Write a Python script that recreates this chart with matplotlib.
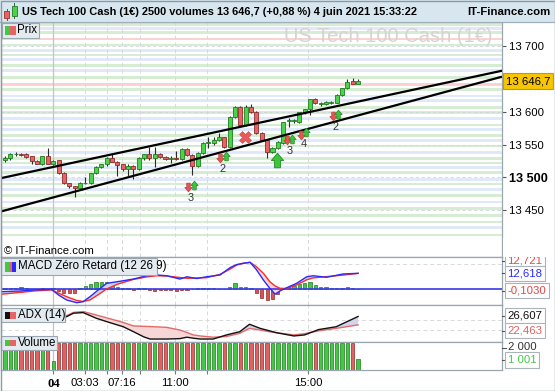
import numpy as np
import matplotlib
matplotlib.use('Agg')
import matplotlib.pyplot as plt
from matplotlib.patches import Rectangle
from matplotlib.lines import Line2D
from matplotlib.path import Path

plt.rcParams['font.family'] = ['Liberation Sans', 'DejaVu Sans']

W, H = 555, 391

# --- price candles (one per 2500-volume bar) ---
opens = [13526, 13529, 13535, 13535, 13536, 13532, 13525, 13521, 13532, 13521,
         13526, 13507, 13491, 13486, 13483, 13491, 13491, 13506, 13516, 13520,
         13530, 13524, 13520, 13512, 13518, 13512, 13529, 13535, 13529, 13535,
         13531, 13528, 13530, 13528, 13543, 13534, 13518, 13537, 13552, 13553,
         13557, 13561, 13547, 13592, 13608, 13580, 13608, 13600, 13568, 13557,
         13539, 13544, 13553, 13586, 13586, 13585, 13599, 13604, 13619, 13612,
         13612, 13614, 13614, 13625, 13636, 13647, 13643]
closes = [13530, 13535, 13535.5, 13534, 13531, 13525, 13521, 13532, 13521, 13525,
          13507, 13491, 13486, 13483, 13492, 13491.5, 13506, 13516, 13520, 13530,
          13524, 13519, 13512, 13518, 13512, 13529, 13535, 13529, 13535, 13531,
          13528, 13530, 13528, 13543, 13534, 13518, 13537, 13553, 13554, 13557,
          13561, 13547, 13592, 13608, 13580, 13608, 13600, 13568, 13557, 13539,
          13544, 13554, 13584, 13587, 13587, 13599, 13604, 13619, 13613, 13613,
          13615, 13615, 13626, 13636, 13646, 13643, 13646.7]
highs = [13533, 13537, 13539, 13537, 13537, 13533, 13526, 13533, 13545, 13527,
         13527, 13508, 13492, 13487, 13493, 13500, 13507, 13517, 13521, 13531,
         13535, 13525, 13521, 13520, 13519, 13531, 13536, 13547, 13546, 13537,
         13532, 13532, 13540, 13544, 13544, 13535, 13538, 13554, 13561, 13562,
         13568, 13562, 13593, 13609, 13609, 13610, 13612, 13601, 13569, 13558,
         13546, 13555, 13585, 13590, 13589, 13600, 13605, 13620, 13621, 13615,
         13617, 13617, 13627, 13637, 13650, 13652, 13650]
lows = [13524, 13527, 13532, 13532, 13530, 13520, 13520, 13519, 13520, 13519,
        13505, 13489, 13484, 13470, 13481, 13489, 13490, 13505, 13514, 13518,
        13523, 13502, 13510, 13502, 13498, 13511, 13527, 13527, 13515, 13529,
        13526, 13522, 13526, 13527, 13532, 13503, 13516, 13536, 13544, 13550,
        13555, 13545, 13545, 13590, 13578, 13578, 13598, 13566, 13555, 13529,
        13537, 13543, 13551, 13577, 13583, 13583, 13597, 13595, 13612, 13609,
        13610, 13612, 13613, 13624, 13635, 13642, 13642]
volumes = [2500, 2500, 2500, 2500, 2500, 2500, 2500, 2500, 2500, 820,
           2500, 2500, 2500, 2500, 2500, 2500, 2500, 2500, 2500, 2500,
           2500, 2500, 2500, 2500, 2500, 2500, 2500, 2500, 2500, 2500,
           2500, 2500, 2500, 2500, 2500, 2500, 2500, 2500, 2500, 2500,
           2500, 2500, 2500, 2500, 2500, 2500, 2500, 2500, 2500, 2500,
           2500, 2500, 2500, 2500, 2500, 2500, 2500, 2500, 2500, 2500,
           2500, 2500, 2500, 2500, 2500, 2500, 1001]

# --- MACD zero lag (12 26 9) ---
macd_hist = [0.8, 1.3, 1.3, 1.8, 0.8, 0.2, 0.2, 1.3, 0.2, 1.3,
             -1.0, -2.6, -3.2, -2.6, 1.3, 2.4, 3.9, 5.5, 5.5, 5.5,
             3.4, 1.8, 1.3, 0.8, -0.5, 0.8, 0.8, -0.8, -1.0, -0.8,
             -0.5, -0.8, -1.0, -0.8, -0.5, 0.2, 0.8, 1.3, 1.3, 1.3,
             0.3, 0.3, 2.1, 4.7, 1.6, 2.1, 0.8, -3.2, -6.6, -8.4,
             -7.6, -3.9, 0.2, 1.6, 2.6, 3.9, 4.7, 5.5, 3.4, 2.1,
             1.6, 1.0, 1.0, 1.0, 1.6, 0.8, -0.1]
macd_x = [-0.7, 3, 5.5, 8.7, 10, 11.5, 13.4, 14.6, 15.9, 17.8, 19.0, 21, 24,
          26.5, 28.4, 30.2, 32.7, 34, 35.8, 37.7, 40.2, 42.1, 43.3, 44.5, 45.8,
          47, 48.3, 49.5, 50.5, 51.4, 52.7, 54.5, 56.4, 57.6, 60.1, 63.2, 66]
macd_line = [-1.9, -1.3, -0.5, 0.0, -4.5, -8.4, -10.6, -9.8, -5.8, 0.8, 4.7, 6.0, 8.1,
             10.7, 11.3, 10.7, 8.1, 9.9, 8.5, 9.9, 11.3, 17.2, 19.5, 20.5, 21.3,
             15.5, 7.3, 0.8, -3.9, -1.3, 1.3, 4.7, 9.9, 10.7, 9.5, 12.1, 12.6]
macd_signal = [-3.9, -2.4, -1.3, -0.5, -3.0, -5.8, -8.8, -9.6, -8.4, -3.2, 0.3, 4.0, 7.8,
               9.8, 10.7, 10.5, 9.3, 8.7, 8.9, 9.2, 11.8, 16.0, 19.2, 20.5, 21.3,
               17.8, 12.6, 6.0, 2.6, 0.8, 0.6, 3.4, 7.5, 9.0, 10.0, 11.2, 12.6]

# --- ADX (14) ---
adx_x = [8, 11.5, 12.8, 14.6, 17.1, 19.6, 22.1, 24.0, 25.9, 27.1, 30.2, 32.7, 34.0,
         35.2, 36.5, 38.9, 41.4, 43.9, 45.7, 47.7, 49.3, 50.7, 54.0, 56.0, 58.6, 61.9, 66]
adx_line = [24.0, 26.5, 28.2, 28.5, 25.7, 23.6, 21.6, 19.2, 16.7, 15.6, 15.6, 15.8, 16.5,
            16.0, 15.6, 15.6, 17.6, 19.2, 22.8, 20.8, 19.7, 18.7, 17.1, 17.6, 20.2, 21.6, 26.6]
adx_ref = [25.0, 27.0, 28.6, 29.0, 27.3, 25.5, 23.7, 22.0, 21.8, 21.7, 21.3, 20.0, 18.8,
           17.6, 17.1, 16.5, 16.8, 18.4, 20.8, 20.0, 19.2, 18.7, 17.6, 18.2, 19.6, 20.8, 22.5]

# --- trend lines (endpoints) ---
trend_x = [-0.75, 92.9]
trend_upper = [13498.7, 13662.7]
trend_lower = [13447.8, 13653.6]

# --- signals ---
sig_down_x = [34.2, 40.2, 52.7, 55.3, 61.25]
sig_down_y = [13485, 13529.5, 13556.5, 13564.5, 13593]
sig_up_x = [35.3, 41.3, 53.7, 56.35, 62.3]
sig_up_y = [13487.5, 13532, 13559, 13568.5, 13597]
sig_labels = ['3', '2', '3', '4', '2']
sig_label_x = [34.8, 40.7, 53.2, 55.8, 61.7]
sig_label_y = [13469, 13513, 13540, 13551, 13577]
big_up = (50.8, 13526)
cross = (44.9, 13561.5)

# --- support / resistance bands ---
band_levels = [13733, 13727, 13721, 13711, 13702, 13694, 13687, 13680, 13671, 13663,
               13652, 13642, 13634, 13624, 13617, 13607, 13599, 13590, 13580, 13573,
               13564, 13556, 13548, 13538, 13529, 13522, 13515, 13507, 13497, 13490,
               13481, 13472, 13462, 13452, 13442, 13432, 13423, 13412]
band_kinds = 'gbgpgbgbgbgpgbbggbgbgbgbggbgbgbgbgggbg'

price_ticks = [13450, 13500, 13550, 13600, 13700]
price_tick_labels = ['13 450', '13 500', '13 550', '13 600', '13 700']
time_ticks = [9.05, 14.95, 19.07, 21.87, 25.2, 31.78, 37.76, 56.64]
time_labels = ['04', '03:03', '', '07:16', '', '11:00', '', '15:00']

XLIM = (-0.75, 92.9)
GREEN, GREEN_E = '#4cd24c', '#1e7d1e'
RED, RED_E = '#e86464', '#8e2a2a'
SPINE = '#9aa6ae'
FS = 7.9


def fx(x):
    return x / W


def fy(y):
    return 1 - y / H


fig = plt.figure(figsize=(W / 100, H / 100), dpi=100)
fig.patch.set_facecolor('white')


def add_ax(x0, y0, x1, y1):
    ax = fig.add_axes([x0 / W, 1 - y1 / H, (x1 - x0) / W, (y1 - y0) / H])
    ax.set_xlim(*XLIM)
    ax.set_facecolor('white')
    for s in ax.spines.values():
        s.set_color(SPINE)
        s.set_linewidth(0.9)
    ax.set_xticks([])
    ax.set_yticks([])
    for i, t in enumerate(time_ticks):
        if i == 0:
            ax.axvline(t, color='#c4c4c4', lw=0.9, zorder=0.3)
        else:
            ax.axvline(t, color='#d9d9d9', lw=0.7, ls=(0, (4, 3)), zorder=0.3)
    return ax


def fig_rect(x0, y0, x1, y1, fc, ec='none', lw=0.8, z=5):
    fig.add_artist(Rectangle((fx(x0), fy(y1)), (x1 - x0) / W, (y1 - y0) / H,
                             transform=fig.transFigure, fc=fc, ec=ec, lw=lw, zorder=z))


def legend_box(x0, y0, x1, y1, icon_cols, text):
    fig_rect(x0, y0, x1, y1, '#e4ebf0', '#9aa7b0')
    n = len(icon_cols)
    w = 10.5 / n
    for k, c in enumerate(icon_cols):
        fig_rect(5 + k * w, y0 + 3.5, 5 + (k + 1) * w, y1 - 3.5, c, z=6)
    fig.text(fx(17.5), fy((y0 + y1) / 2), text, fontsize=FS + 0.4, va='center', ha='left', zorder=7)


def right_label(y, s, color, box=True):
    bb = dict(boxstyle='square,pad=0.22', fc='white', ec='#aab4bb', lw=0.8) if box else None
    fig.text(fx(507.5), fy(y), s, color=color, fontsize=FS + 0.3, va='center', ha='left',
             bbox=bb, zorder=8)
    fig.add_artist(Line2D([fx(502), fx(505.5)], [fy(y), fy(y)], transform=fig.transFigure,
                          color='#555555', lw=0.8, zorder=8))


idx = np.arange(len(opens))
o = np.array(opens, dtype=float)
c = np.array(closes, dtype=float)
up = c >= o

# ---------------- price panel ----------------
ax_p = add_ax(1, 22, 502, 257)
ax_p.set_ylim(13378.3, 13737.1)
band_col = {'g': '#d7edd3', 'b': '#e0e9fa', 'p': '#fad3d0'}
for lvl, k in zip(band_levels, band_kinds):
    ax_p.axhspan(lvl - 2.0, lvl + 2.0, color=band_col[k], lw=0, zorder=0.2)
for t in price_ticks:
    ax_p.axhline(t, color='#cfd6dc', lw=0.6, ls=(0, (4, 3)), zorder=0.4)

ax_p.text(fx(492), fy(36), 'US Tech 100 Cash (1€)', transform=fig.transFigure,
          fontsize=14.5, color='#d4d4d4', ha='right', va='center', zorder=1)

ax_p.vlines(idx, lows, highs, color='#2b2b2b', lw=0.8, zorder=2)
ax_p.bar(idx, np.maximum(np.abs(c - o), 0.8), bottom=np.minimum(o, c), width=0.75,
         color=np.where(up, GREEN, RED), edgecolor=np.where(up, GREEN_E, RED_E),
         lw=0.6, zorder=3)

ax_p.plot(trend_x, trend_upper, color='black', lw=1.6, zorder=4, solid_capstyle='butt')
ax_p.plot(trend_x, trend_lower, color='black', lw=1.6, zorder=4, solid_capstyle='butt')

up_arrow = Path([(-0.2, -0.5), (0.2, -0.5), (0.2, 0.0), (0.42, 0.0), (0.0, 0.5),
                 (-0.42, 0.0), (-0.2, 0.0), (-0.2, -0.5)],
                [Path.MOVETO] + [Path.LINETO] * 6 + [Path.CLOSEPOLY])
down_arrow = Path([(x, -y) for x, y in up_arrow.vertices], up_arrow.codes)
ax_p.plot(sig_down_x, sig_down_y, ls='none', marker=down_arrow, ms=6.3,
          mfc='#e65555', mec='#c03c3c', mew=0.5, zorder=5)
ax_p.plot(sig_up_x, sig_up_y, ls='none', marker=up_arrow, ms=6.3,
          mfc='#3cc43c', mec='#208a20', mew=0.5, zorder=5)
ax_p.plot([big_up[0]], [big_up[1]], ls='none', marker=up_arrow, ms=10.5,
          mfc='#3cc43c', mec='#208a20', mew=0.6, zorder=5)
ax_p.plot([cross[0]], [cross[1]], ls='none', marker='X', ms=8,
          mfc='#e85a5a', mec='#d04848', mew=0.4, zorder=5)
for lx, ly, s in zip(sig_label_x, sig_label_y, sig_labels):
    ax_p.text(lx, ly, s, fontsize=FS, color='#333333', ha='center', va='center', zorder=5)

ax_p.yaxis.tick_right()
ax_p.set_yticks(price_ticks)
ax_p.set_yticklabels(price_tick_labels)
ax_p.tick_params(axis='y', length=2.6, width=0.8, color='#555555', pad=2.2, labelsize=FS + 0.3)
ax_p.get_yticklabels()[1].set_fontweight('bold')
ax_p.get_yticklabels()[1].set_fontsize(FS + 1.2)

ax_p.text(1.008, closes[-1], '13 646,7', transform=ax_p.get_yaxis_transform(),
          fontsize=FS + 0.3, va='center', ha='left', zorder=9, clip_on=False,
          bbox=dict(boxstyle='square,pad=0.25', fc='#f7c600', ec='#c89a00', lw=0.8))

fig.text(fx(3.5), fy(251.5), '© IT-Finance.com', fontsize=FS + 0.3, va='center', ha='left')

# ---------------- MACD panel ----------------
ax_m = add_ax(1, 257, 502, 305)
ax_m.set_ylim(-12.4, 25.5)
ax_m.axhline(20, color='#d9d9d9', lw=0.7, ls=(0, (4, 3)), zorder=0.3)
hist = np.array(macd_hist)
ax_m.bar(idx, hist, width=0.6, color=np.where(hist >= 0, '#44c844', '#d85454'),
         edgecolor=np.where(hist >= 0, '#1e7d1e', '#8e2a2a'), lw=0.5, zorder=2)
ax_m.axhline(0, color='#3a3ae6', lw=1.2, zorder=3)
ml, ms_ = np.array(macd_line), np.array(macd_signal)
ax_m.fill_between(macd_x, ml, ms_, where=ml >= ms_, interpolate=True, color='#cdd3f4', lw=0, zorder=2.5)
ax_m.fill_between(macd_x, ml, ms_, where=ml < ms_, interpolate=True, color='#f8d2d2', lw=0, zorder=2.5)
ax_m.plot(macd_x, macd_signal, color='#ff2a2a', lw=1.0, zorder=4)
ax_m.plot(macd_x, macd_line, color='#2a2aff', lw=1.0, zorder=4)

# ---------------- ADX panel ----------------
ax_a = add_ax(1, 305, 502, 341.7)
ax_a.set_ylim(14.3, 32.2)
for g in (20, 25):
    ax_a.axhline(g, color='#d9d9d9', lw=0.7, ls=(0, (4, 3)), zorder=0.3)
al, ar = np.array(adx_line), np.array(adx_ref)
ax_a.fill_between(adx_x, al, ar, where=ar >= al, interpolate=True, color='#f6d6d6', lw=0, zorder=1)
ax_a.fill_between(adx_x, al, ar, where=ar < al, interpolate=True, color='#d3d3ea', lw=0, zorder=1)
ax_a.plot(adx_x, adx_ref, color='#e46a6a', lw=1.0, zorder=2)
ax_a.plot(adx_x, adx_line, color='#111111', lw=1.0, zorder=3)

# ---------------- volume panel ----------------
ax_v = add_ax(1, 341.7, 502, 369.5)
ax_v.set_ylim(0, 2673)
ax_v.bar(idx, volumes, width=0.62, color=np.where(up, '#44c844', '#e06262'),
         edgecolor=np.where(up, '#1e7d1e', '#8e2a2a'), lw=0.5, zorder=2)
ax_v.set_xticks(time_ticks)
ax_v.set_xticklabels(time_labels)
ax_v.tick_params(axis='x', length=3, width=0.8, color='#777777', pad=3, labelsize=FS + 0.3)
lbl0 = ax_v.get_xticklabels()[0]
lbl0.set_fontfamily('Liberation Serif')
lbl0.set_fontweight('bold')
lbl0.set_fontsize(FS + 1.3)

# ---------------- right-hand value labels ----------------
right_label(260.5, '12,721', '#e04848')
fig_rect(503, 238, 554, 257.3, 'white', z=9)
right_label(273.3, '12,618', '#2a2aff')
right_label(290.5, '-0,1030', '#e04848')
right_label(316.0, '26,607', '#111111')
right_label(330.7, '22,463', '#e06060')
right_label(347.5, '2 000', '#333333', box=False)
right_label(360.0, '1 001', '#44c844')

# ---------------- legend boxes ----------------
legend_box(1.5, 22.5, 39, 38, ['#44c844', '#e86464'], 'Prix')
legend_box(1, 258, 157, 275, ['#44c844', '#e86464', '#2a2aff'], 'MACD Zéro Retard (12 26 9)')
legend_box(1, 308, 65, 322, ['#111111', '#e86464'], 'ADX (14)')
legend_box(1, 336, 57, 349.5, ['#44c844', '#e86464'], 'Volume')

# ---------------- title bar ----------------
fig_rect(0, 0, 555, 22, '#d8e7ef', z=4)
fig.add_artist(Line2D([0, 1], [fy(22), fy(22)], transform=fig.transFigure, color='#9fb0bb', lw=0.9, zorder=5))
fig.add_artist(Line2D([fx(6.5), fx(6.5)], [fy(9), fy(20)], transform=fig.transFigure, color='#555555', lw=0.7, zorder=5))
fig_rect(4, 11, 9, 18, '#e86464', '#a03030', lw=0.6, z=6)
fig.add_artist(Line2D([fx(14), fx(14)], [fy(3), fy(18)], transform=fig.transFigure, color='#555555', lw=0.7, zorder=5))
fig_rect(11.5, 6, 16.5, 16, '#4cd24c', '#208020', lw=0.6, z=6)
fig.text(fx(22.5), fy(12), 'US Tech 100 Cash (1€) 2500 volumes 13 646,7 (+0,88 %) 4 juin 2021 15:33:22',
         fontsize=FS, fontweight='bold', va='center', ha='left', zorder=7)
fig.text(fx(551), fy(12), 'IT-Finance.com', fontsize=FS + 0.3, fontweight='bold',
         va='center', ha='right', zorder=7)

fig_rect(0.5, 0.5, 554.5, 390.5, 'none', '#8d9aa3', lw=1.0, z=10)

fig.savefig('out.png', dpi=100)
